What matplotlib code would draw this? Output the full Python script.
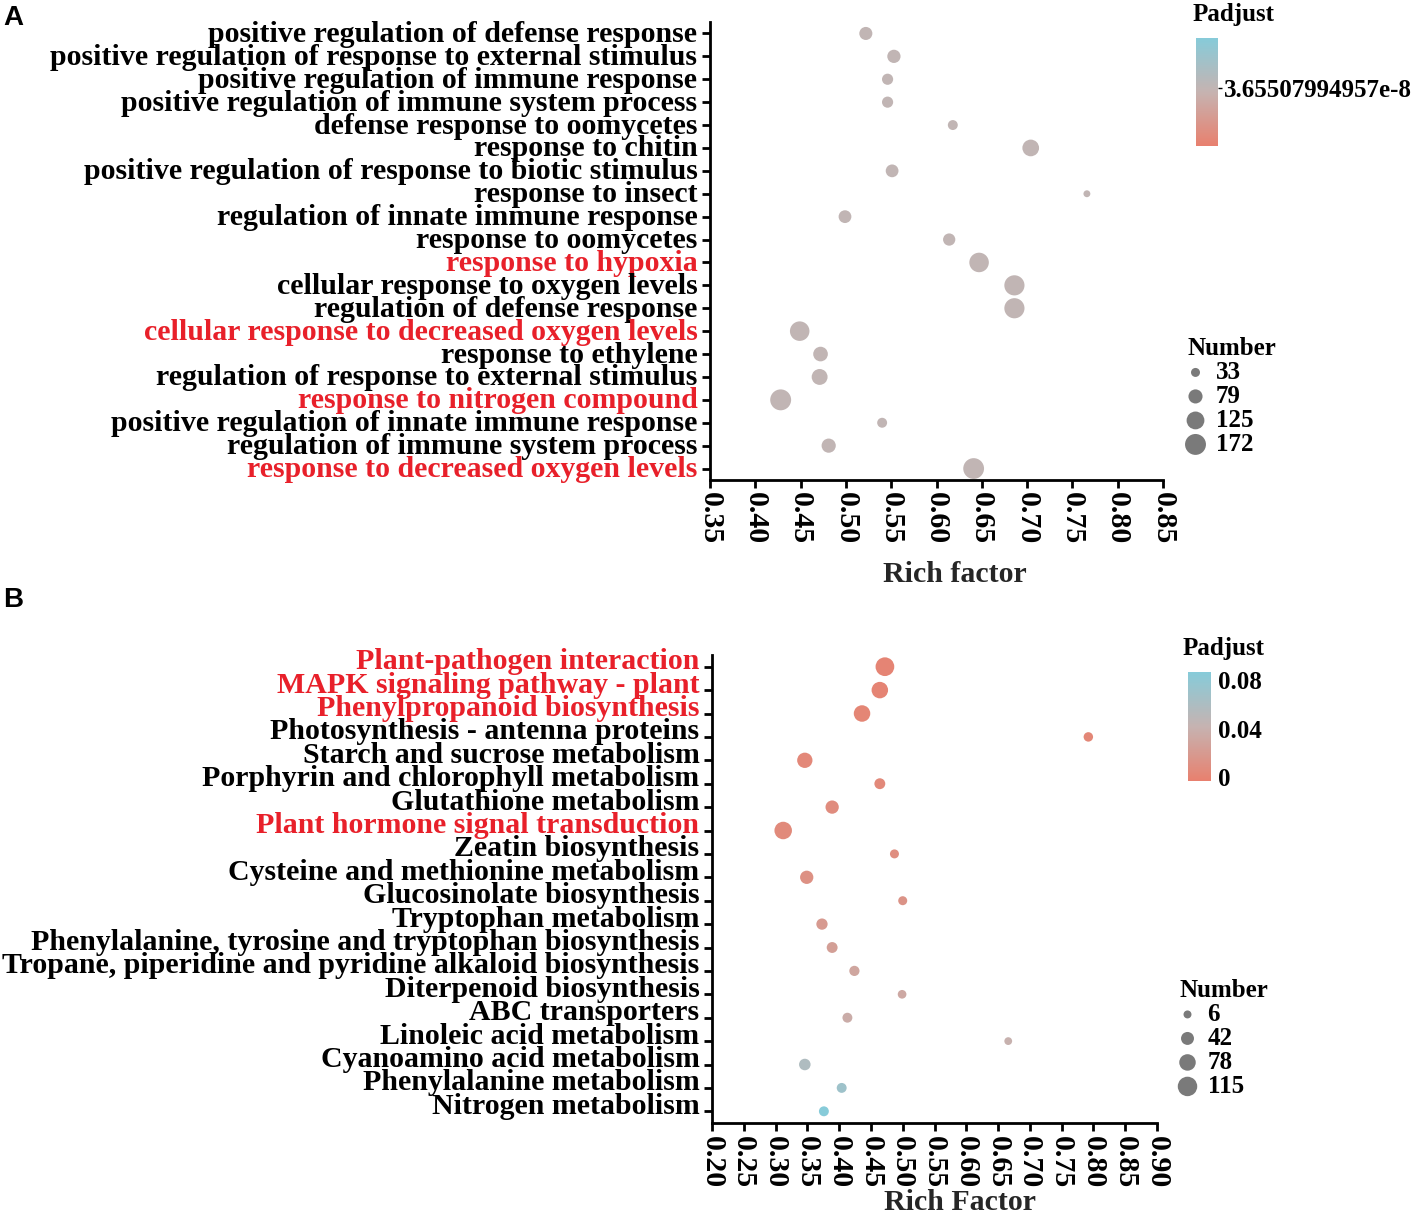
import matplotlib.pyplot as plt
import numpy as np
from matplotlib.colors import LinearSegmentedColormap, Normalize
from matplotlib.cm import ScalarMappable
from matplotlib.transforms import ScaledTranslation

plt.rcParams['font.family'] = 'Liberation Serif'
plt.rcParams['font.weight'] = 'bold'

# panel A: GO terms
termsA = ['positive regulation of defense response',
          'positive regulation of response to external stimulus',
          'positive regulation of immune response',
          'positive regulation of immune system process',
          'defense response to oomycetes',
          'response to chitin',
          'positive regulation of response to biotic stimulus',
          'response to insect',
          'regulation of innate immune response',
          'response to oomycetes',
          'response to hypoxia',
          'cellular response to oxygen levels',
          'regulation of defense response',
          'cellular response to decreased oxygen levels',
          'response to ethylene',
          'regulation of response to external stimulus',
          'response to nitrogen compound',
          'positive regulation of innate immune response',
          'regulation of immune system process',
          'response to decreased oxygen levels']
richA = [0.522, 0.553, 0.546, 0.546, 0.618, 0.704, 0.551, 0.766, 0.499, 0.614,
         0.647, 0.686, 0.686, 0.449, 0.472, 0.471, 0.428, 0.540, 0.481, 0.641]
countA = [68, 70, 50, 50, 40, 110, 65, 20, 65, 60,
          150, 160, 160, 150, 85, 100, 172, 40, 80, 170]
padjA = 3.65507994957e-8
redA = ['response to hypoxia', 'cellular response to decreased oxygen levels',
        'response to nitrogen compound', 'response to decreased oxygen levels']
legendA = [33, 79, 125, 172]

# panel B: KEGG pathways
termsB = ['Plant-pathogen interaction',
          'MAPK signaling pathway - plant',
          'Phenylpropanoid biosynthesis',
          'Photosynthesis - antenna proteins',
          'Starch and sucrose metabolism',
          'Porphyrin and chlorophyll metabolism',
          'Glutathione metabolism',
          'Plant hormone signal transduction',
          'Zeatin biosynthesis',
          'Cysteine and methionine metabolism',
          'Glucosinolate biosynthesis',
          'Tryptophan metabolism',
          'Phenylalanine, tyrosine and tryptophan biosynthesis',
          'Tropane, piperidine and pyridine alkaloid biosynthesis',
          'Diterpenoid biosynthesis',
          'ABC transporters',
          'Linoleic acid metabolism',
          'Cyanoamino acid metabolism',
          'Phenylalanine metabolism',
          'Nitrogen metabolism']
richB = [0.472, 0.464, 0.436, 0.792, 0.346, 0.464, 0.389, 0.312, 0.487, 0.349,
         0.500, 0.373, 0.389, 0.424, 0.499, 0.413, 0.666, 0.346, 0.404, 0.376]
countB = [105, 78, 78, 15, 65, 25, 45, 90, 12, 45,
          12, 28, 25, 20, 10, 18, 5, 30, 18, 18]
padjB = [0.001, 0.001, 0.002, 0.003, 0.004, 0.005, 0.008, 0.006, 0.009, 0.012,
         0.014, 0.020, 0.024, 0.030, 0.032, 0.036, 0.040, 0.058, 0.070, 0.086]
redB = ['Plant-pathogen interaction', 'MAPK signaling pathway - plant',
        'Phenylpropanoid biosynthesis', 'Plant hormone signal transduction']
legendB = [6, 42, 78, 115]

cmap = LinearSegmentedColormap.from_list('padj', ['#e8806e', '#c6b3b1', '#86cbd9'])
red = '#e8202a'
W, H = 1420, 1216
FS = 21.5


def px(x0, y0, w, h):
    # pixel box (left, top, width, height) -> figure rect
    return [x0 / W, 1 - (y0 + h) / H, w / W, h / H]


def panel(rect, terms, rich, counts, colors, norm, reds, xlim, xlabel, sa, sb,
          lab_shift, lab_x, labelpad):
    ax = fig.add_axes(rect)
    y = np.arange(len(terms))
    ax.scatter(rich, y, s=sa + sb * np.array(counts), c=colors, cmap=cmap, norm=norm,
               edgecolors='none', zorder=3)
    ax.set_ylim(len(terms) - 0.5, -0.5)
    ax.set_xlim(*xlim)
    for s in ['top', 'right']:
        ax.spines[s].set_visible(False)
    for s in ['left', 'bottom']:
        ax.spines[s].set_linewidth(2)
    ax.tick_params(width=2, length=6, pad=3)
    xt = np.round(np.arange(xlim[0], xlim[1] + 0.001, 0.05), 2)
    ax.set_xticks(xt)
    ax.set_xticklabels([f'{v:.2f}' for v in xt], rotation=-90, fontsize=FS)
    ax.set_yticks(y)
    ax.set_yticklabels(terms, fontsize=FS)
    # labels sit a bit above their ticks in the original
    off = ScaledTranslation(0, lab_shift / 100, fig.dpi_scale_trans)
    for lab in ax.get_yticklabels():
        lab.set_transform(lab.get_transform() + off)
        if lab.get_text() in reds:
            lab.set_color(red)
    ax.set_xlabel(xlabel, fontsize=FS, color='#262626', weight='bold', labelpad=labelpad)
    ax.xaxis.label.set_x(lab_x)
    return ax


def size_legend(vals, sa, sb, x0, y0):
    hs = [plt.scatter([], [], s=sa + sb * v, color='#7a7a7a', edgecolors='none') for v in vals]
    fig.legend(hs, [str(v) for v in vals], title='Number', loc='upper left',
               bbox_to_anchor=(x0 / W, 1 - y0 / H), frameon=False, fontsize=18,
               title_fontsize=18, labelspacing=0.04, handletextpad=0.5, handlelength=0.6,
               borderpad=0, borderaxespad=0, alignment='left')


fig = plt.figure(figsize=(W / 100, H / 100), dpi=100)

# ---- A ----
normA = Normalize(0, padjA / 0.54)
panel(px(710, 22, 453, 458), termsA, richA, countA, [cmap(normA(padjA))], None, redA,
      (0.35, 0.85), 'Rich factor', -2, 1.33, 2, 0.54, 12)
caxA = fig.add_axes(px(1196, 38, 22, 108))
cbA = fig.colorbar(ScalarMappable(normA, cmap), cax=caxA, ticks=[padjA])
cbA.outline.set_visible(False)
cbA.ax.set_yticklabels([f'{padjA:.11e}'.replace('e-0', 'e-')], fontsize=18)
cbA.ax.tick_params(length=3, width=1, pad=1)
fig.text(1193 / W, 1 - 15 / H, 'Padjust', fontsize=18, va='center', ha='left')
size_legend(legendA, -2, 1.33, 1188, 337)

# ---- B ----
normB = Normalize(-0.003, 0.0866)
panel(px(712, 655, 445, 468), termsB, richB, countB, padjB, normB, redB,
      (0.20, 0.90), 'Rich Factor', 24, 1.5, 8, 0.557, 1)
caxB = fig.add_axes(px(1188, 672, 23, 109))
cbB = fig.colorbar(ScalarMappable(normB, cmap), cax=caxB, ticks=[0, 0.04, 0.08])
cbB.outline.set_visible(False)
cbB.ax.set_yticklabels(['0', '0.04', '0.08'], fontsize=18)
cbB.ax.tick_params(length=0, pad=5)
fig.text(1183 / W, 1 - 648 / H, 'Padjust', fontsize=18, va='center', ha='left')
size_legend(legendB, 24, 1.5, 1180, 979)

fig.text(0.002, 1 - 18 / H, 'A', fontsize=20, family='Liberation Sans', weight='bold', va='center')
fig.text(0.002, 1 - 600 / H, 'B', fontsize=20, family='Liberation Sans', weight='bold', va='center')

fig.savefig('out.png', dpi=100)
